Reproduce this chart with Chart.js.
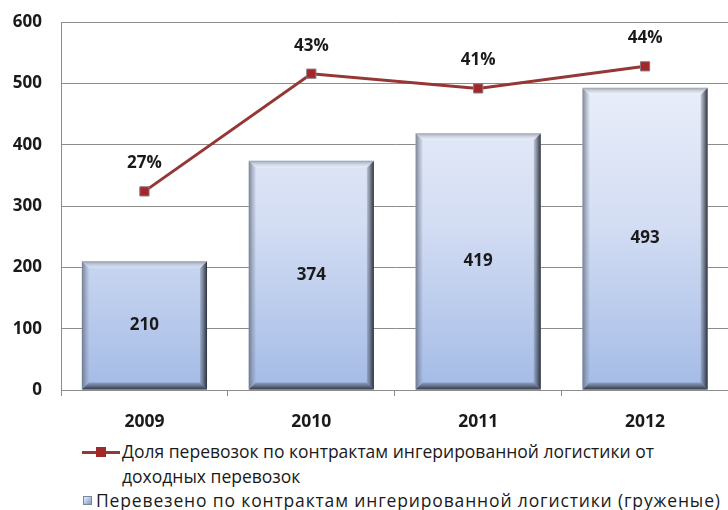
<!DOCTYPE html>
<html>
<head>
<meta charset="utf-8">
<script src="https://cdn.jsdelivr.net/npm/chart.js@4.4.1/dist/chart.umd.min.js"></script>
<style>
  html, body { margin: 0; padding: 0; background: #fff; overflow: hidden; }
  #wrap { position: relative; width: 728px; height: 510px; overflow: hidden; }
  #chart { position: absolute; left: 0; top: -7px; }
  .legend { position: absolute; font-family: "Open Sans", sans-serif; font-size: 17.5px; color: #1a1a1a; line-height: 25px; }
  .leg-line { left: 82px; top: 439px; }
  .leg-bar { left: 82px; top: 488px; }
  .sym-line { position: absolute; left: 0; top: 12px; width: 38px; height: 3px; background: #953735; }
  .sym-line i { position: absolute; left: 14px; top: -4px; width: 10px; height: 10px; background: #a02a2a; }
  .sym-bar { position: absolute; left: 1px; top: 8px; width: 9px; height: 9px; background: linear-gradient(135deg, #e8eefa, #7f98c8); border: 1px solid #7d8797; box-sizing: border-box; }
  .leg-line span { display: block; padding-left: 40px; }
  .leg-bar span { display: block; padding-left: 14px; white-space: nowrap; letter-spacing: 0.85px; }
</style>
</head>
<body>
<div id="wrap">
  <canvas id="chart" width="736" height="442"></canvas>
  <div class="legend leg-line"><div class="sym-line"><i></i></div><span>Доля перевозок по контрактам ингерированной логистики от<br>доходных перевозок</span></div>
  <div class="legend leg-bar"><div class="sym-bar"></div><span>Перевезено по контрактам ингерированной логистики (груженые)</span></div>
</div>
<script>
const years = ["2009", "2010", "2011", "2012"];
const shipped = [210, 374, 419, 493];
const sharePct = [27, 43, 41, 44];
const yTicks = [0, 100, 200, 300, 400, 500, 600];

const labelFont = 'bold 17px "Open Sans", sans-serif';

// bevelled look on the column edges
const bevelPlugin = {
    id: "bevel",
    afterDatasetDraw(chart, args) {
        if (args.meta.type !== "bar") return;
        const ctx = chart.ctx;
        args.meta.data.forEach((bar) => {
            const l = bar.x - bar.width / 2;
            const r = bar.x + bar.width / 2;
            const t = bar.y;
            const b = bar.base;
            const e = 7;
            ctx.save();
            // right side
            let g = ctx.createLinearGradient(r - e, 0, r, 0);
            g.addColorStop(0, "rgba(60,66,80,0.2)");
            g.addColorStop(1, "rgba(35,40,50,0.95)");
            ctx.fillStyle = g;
            ctx.beginPath();
            ctx.moveTo(r, t); ctx.lineTo(r, b); ctx.lineTo(r - e, b - e); ctx.lineTo(r - e, t + e);
            ctx.closePath(); ctx.fill();
            // bottom side
            g = ctx.createLinearGradient(0, b - e, 0, b);
            g.addColorStop(0, "rgba(60,66,80,0.25)");
            g.addColorStop(1, "rgba(35,40,50,0.9)");
            ctx.fillStyle = g;
            ctx.beginPath();
            ctx.moveTo(l, b); ctx.lineTo(r, b); ctx.lineTo(r - e, b - e); ctx.lineTo(l + e, b - e);
            ctx.closePath(); ctx.fill();
            // left side
            g = ctx.createLinearGradient(l, 0, l + e, 0);
            g.addColorStop(0, "rgba(90,98,115,0.75)");
            g.addColorStop(1, "rgba(120,130,150,0.1)");
            ctx.fillStyle = g;
            ctx.beginPath();
            ctx.moveTo(l, t); ctx.lineTo(l + e, t + e); ctx.lineTo(l + e, b - e); ctx.lineTo(l, b);
            ctx.closePath(); ctx.fill();
            // top side
            g = ctx.createLinearGradient(0, t, 0, t + e);
            g.addColorStop(0, "rgba(120,128,145,0.7)");
            g.addColorStop(1, "rgba(255,255,255,0.2)");
            ctx.fillStyle = g;
            ctx.beginPath();
            ctx.moveTo(l, t); ctx.lineTo(r, t); ctx.lineTo(r - e, t + e); ctx.lineTo(l + e, t + e);
            ctx.closePath(); ctx.fill();
            ctx.restore();
        });
    }
};

// value labels: inside the columns and above the line points
const valueLabels = {
    id: "valueLabels",
    afterDatasetsDraw(chart) {
        const ctx = chart.ctx;
        ctx.save();
        ctx.font = labelFont;
        ctx.fillStyle = "#1a1a1a";
        ctx.textAlign = "center";
        ctx.textBaseline = "middle";
        chart.data.datasets.forEach((ds, i) => {
            const meta = chart.getDatasetMeta(i);
            meta.data.forEach((el, j) => {
                if (meta.type === "bar") {
                    ctx.fillText(ds.data[j], el.x, (el.y + el.base) / 2);
                } else {
                    ctx.fillText(ds.data[j] + "%", el.x, el.y - 28);
                }
            });
        });
        ctx.restore();
    }
};

const canvas = document.getElementById("chart");

new Chart(canvas, {
    data: {
        labels: years,
        datasets: [
            {
                type: "line",
                label: "Доля перевозок по контрактам ингерированной логистики от доходных перевозок",
                data: sharePct,
                yAxisID: "yPct",
                borderColor: "#953735",
                borderWidth: 3,
                pointStyle: "rect",
                pointRadius: 6.5,
                pointBackgroundColor: "#a3262a",
                pointBorderColor: "#8a7a7a",
                pointBorderWidth: 1,
                order: 0
            },
            {
                type: "bar",
                label: "Перевезено по контрактам ингерированной логистики (груженые)",
                data: shipped,
                yAxisID: "y",
                backgroundColor: (c) => {
                    const area = c.chart.chartArea;
                    if (!area) return "#c8d6f0";
                    const g = c.chart.ctx.createLinearGradient(0, area.top, 0, area.bottom);
                    g.addColorStop(0, "#f2f5fc");
                    g.addColorStop(0.55, "#d3ddf3");
                    g.addColorStop(1, "#a4bbe6");
                    return g;
                },
                barPercentage: 0.75,
                categoryPercentage: 1,
                order: 1
            }
        ]
    },
    options: {
        responsive: false,
        animation: false,
        layout: { padding: { top: 6, right: 3, left: 0, bottom: 0 } },
        plugins: {
            legend: { display: false },
            tooltip: { enabled: false }
        },
        scales: {
            x: {
                offset: true,
                grid: {
                    offset: true,
                    drawOnChartArea: false,
                    tickLength: 6,
                    color: "#8c8c8c"
                },
                border: { color: "#8c8c8c", width: 1 },
                ticks: {
                    color: "#1a1a1a",
                    font: { family: "Open Sans", size: 17.5, weight: "bold" },
                    padding: 16
                },
                afterFit: (s) => { s.height = 45; }
            },
            y: {
                min: 0,
                max: 600,
                afterBuildTicks: (s) => { s.ticks = yTicks.map((v) => ({ value: v })); },
                grid: { color: "#8c8c8c", drawTicks: false },
                border: { color: "#8c8c8c", width: 1 },
                ticks: {
                    color: "#1a1a1a",
                    font: { family: "Open Sans", size: 17, weight: "bold" },
                    padding: 19
                },
                afterFit: (s) => { s.width = 61; }
            },
            yPct: {
                min: 0,
                max: 50,
                display: false
            }
        }
    },
    plugins: [bevelPlugin, valueLabels]
});
</script>
</body>
</html>
